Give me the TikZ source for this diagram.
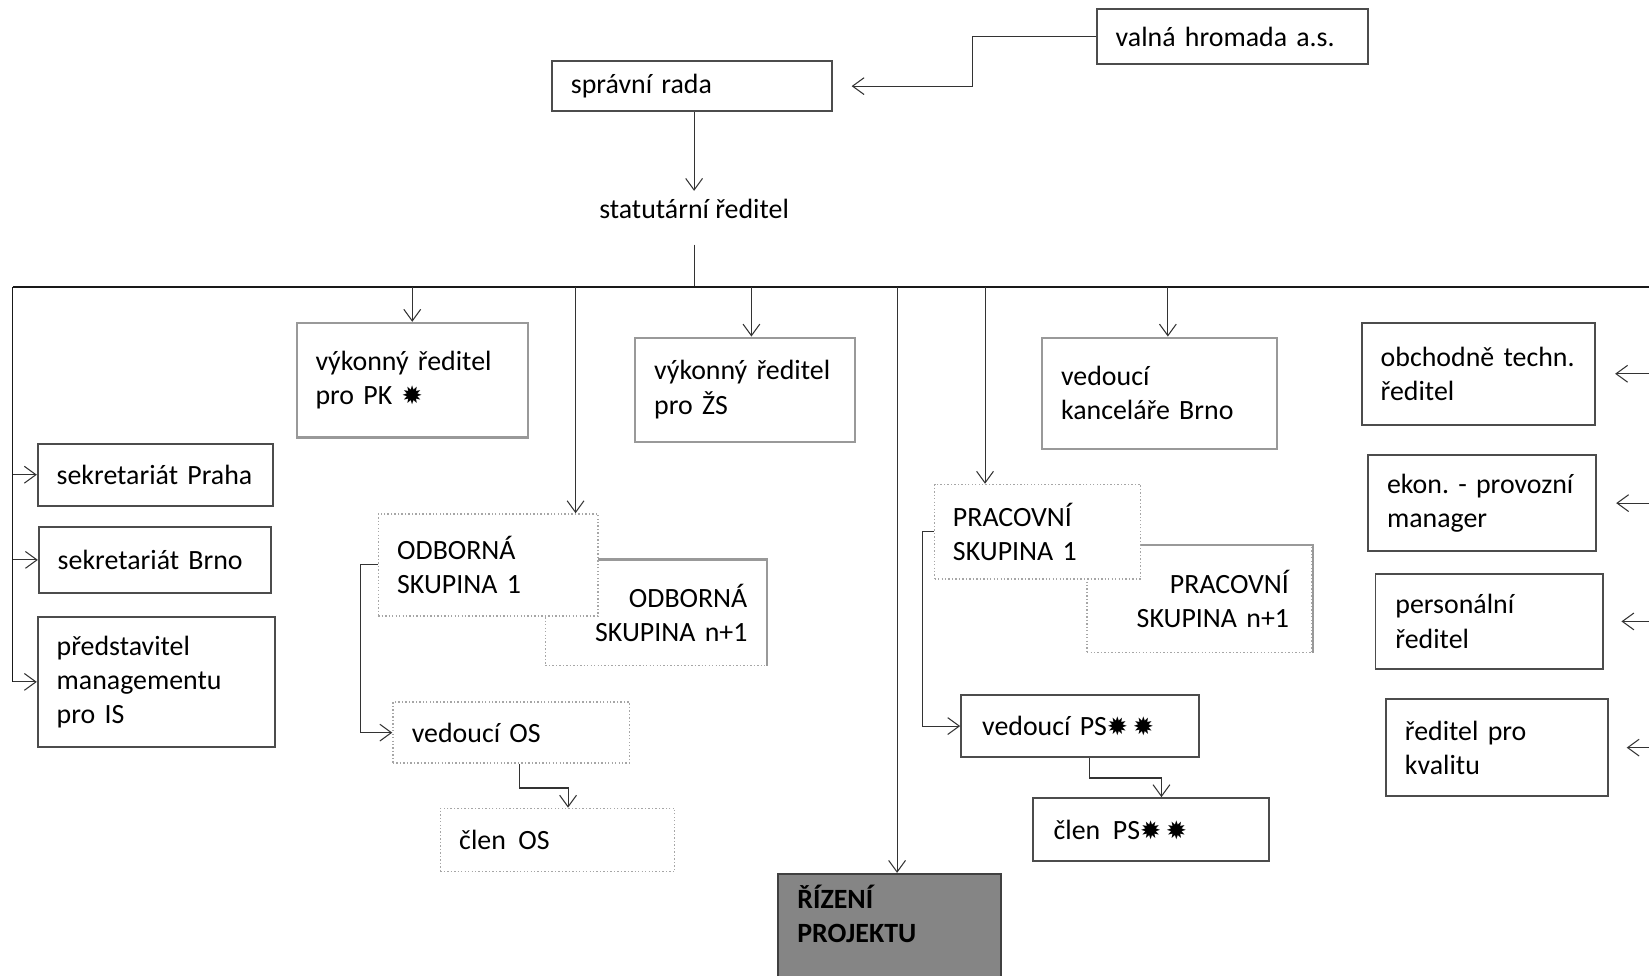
\documentclass[tikz,border=0pt]{standalone}
\usepackage{fontspec}
\setmainfont{Carlito}
\newfontfamily\symfont{DejaVu Sans}
\usetikzlibrary{arrows.meta,calc}
\newcommand{\burst}{{\symfont\fontsize{24}{24}\selectfont ✹}}
\begin{document}
\frenchspacing
\begin{tikzpicture}[x=1pt,y=-1pt,
  font=\fontsize{26.5}{32.5}\selectfont\frenchspacing,
  arr/.style={draw=black!80, line width=1pt, -{Straight Barb[length=11pt,width=16pt]}},
  conn/.style={draw=black!80, line width=1pt},
  busline/.style={draw=black!90, line width=2pt},
  boxbase/.style={rectangle, anchor=north west, inner xsep=18pt, inner ysep=0pt, align=left, fill=white},
  solidbox/.style={boxbase, draw=black!70, line width=1.8pt},
  greybox/.style={boxbase, draw=black!40, line width=2pt},
  faintbox/.style={boxbase, draw=black!35, line width=1.3pt, dotted},
  rpbox/.style={rectangle, anchor=north west, fill=black!48, draw=black!75, line width=2pt},
]
\useasboundingbox (0,0) rectangle (1568,928);
\clip (0,0) rectangle (1568,928);

% top
\node[solidbox, text width=222pt, minimum height=52] (vh) at (1042,8) {valná hromada a.s.};
\node[solidbox, text width=230pt, minimum height=48] (sr) at (524,57) {správní rada};
\node[inner sep=2pt] (st) at (660,199) {statutární ředitel};

% bus
\coordinate (busL) at (12,273);
\coordinate (busR) at (1568,273);

% second level
\node[greybox, text width=184pt, minimum height=109] (pk) at (281,306) {výkonný ředitel\\pro PK \burst};
\node[greybox, text width=173pt, minimum height=99] (zs) at (603,320) {výkonný ředitel\\pro ŽS};
\node[greybox, text width=187pt, minimum height=106] (kb) at (990,320) {vedoucí\\kanceláře Brno};

% right column
\node[solidbox, text width=186pt, minimum height=97] (ot) at (1294,306) {obchodně techn.\\ředitel};
\node[solidbox, text width=181pt, minimum height=91] (ek) at (1300,432) {ekon. - provozní\\manager};
\node[solidbox, text width=178pt, minimum height=90, inner xsep=19pt] (pr) at (1307,545) {personální\\ředitel};
\node[solidbox, text width=175pt, minimum height=92] (kv) at (1317,664) {ředitel pro\\kvalitu};

% left column
\node[solidbox, text width=188pt, minimum height=59] (sp) at (35,421) {sekretariát Praha};
\node[solidbox, text width=185pt, minimum height=63] (sb) at (36,500) {sekretariát Brno};
\node[solidbox, text width=190pt, minimum height=123] (pm) at (35,586) {představitel\\managementu\\pro IS};

% odborné skupiny
\node[faintbox, align=right, text width=174pt, minimum height=100] (os2) at (518,532) {ODBORNÁ\\SKUPINA n+1};
\draw[black!40, line width=2.2pt] (os2.north west) -- (os2.north east) -- (os2.south east);
\node[faintbox, text width=173pt, minimum height=97] (os1) at (359,488) {ODBORNÁ\\SKUPINA 1};
\node[faintbox, text width=189pt, minimum height=58] (vos) at (373,667) {vedoucí OS};
\node[faintbox, text width=187pt, minimum height=60] (cos) at (418,768) {člen\hspace{0.45em}OS};

% pracovní skupiny
\node[faintbox, align=right, text width=170pt, minimum height=102, inner xsep=22pt] (ps2) at (1033,518) {PRACOVNÍ\\SKUPINA n+1};
\draw[black!40, line width=2.2pt] (ps2.north west) -- (ps2.north east) -- (ps2.south east);
\node[faintbox, text width=161pt, minimum height=90, inner xsep=17.5pt] (ps1) at (888,460) {PRACOVNÍ\\SKUPINA 1};
\node[solidbox, text width=186pt, minimum height=59, inner xsep=20pt] (vps) at (913,660) {vedoucí PS\burst\,\burst};
\node[solidbox, text width=185pt, minimum height=60, inner xsep=20pt] (cps) at (981,758) {člen\hspace{0.45em}PS\burst\,\burst};

% řízení projektu
\node[rpbox, minimum width=212, minimum height=120] (rp) at (739,830) {};
\node[anchor=north west, align=left, inner sep=0pt, font=\fontsize{26.5}{32.5}\selectfont\bfseries] (rpt) at ($(rp.north west)+(19,11)$) {ŘÍZENÍ\\PROJEKTU};

% connectors: top
\draw[arr, shorten >=18pt] (vh.west) -- ++(-117,0) |- (sr.east);
\draw[arr, shorten >=6pt] (sr.south -| st.north) -- (st.north);
\draw[conn, shorten <=22pt] (st.south) -- (st.south |- busL);

% bus
\draw[busline] (busL) -- (busR);
\draw[busline, line width=1.6pt] (busL) -- (busL |- pm.west);

% left arrows
\draw[arr] (busL |- sp.west) -- (sp.west);
\draw[arr] (busL |- sb.west) -- (sb.west);
\draw[arr] (busL |- pm.west) -- (pm.west);

% drops from bus
\draw[arr] (pk.north |- busL) -- (pk.north);
\coordinate (os1top) at ($(os1.north east)+(-22,0)$);
\draw[arr] (os1top |- busL) -- (os1top);
\coordinate (zstop) at ($(zs.north)+(6,0)$);
\draw[arr] (zstop |- busL) -- (zstop);
\coordinate (rptop) at ($(rp.north)+(7,0)$);
\draw[arr] (rptop |- busL) -- (rptop);
\coordinate (ps1top) at ($(ps1.north)+(-50,0)$);
\draw[arr] (ps1top |- busL) -- (ps1top);
\coordinate (kbtop) at ($(kb.north)+(8,0)$);
\draw[arr] (kbtop |- busL) -- (kbtop);

% right arrows
\draw[arr, shorten >=18pt] (busR |- ot.east) -- (ot.east);
\draw[arr, shorten >=18pt] (busR |- ek.east) -- (ek.east);
\draw[arr, shorten >=17pt] (busR |- pr.east) -- (pr.east);
\draw[arr, shorten >=17pt] (busR |- kv.east) -- (kv.east);

% odborné skupiny connectors
\draw[arr] (os1.west) -- ++(-16,0) |- (vos.west);
\draw[arr] ($(vos.south)+(8,0)$) -- ++(0,23) -| ($(cos.north)+(10,0)$);

% pracovní skupiny connectors
\draw[arr] (ps1.west) -- ++(-11,0) |- (vps.west);
\draw[arr] ($(vps.south)+(9,0)$) -- ++(0,19) -| ($(cps.north)+(10,0)$);
\end{tikzpicture}
\end{document}
